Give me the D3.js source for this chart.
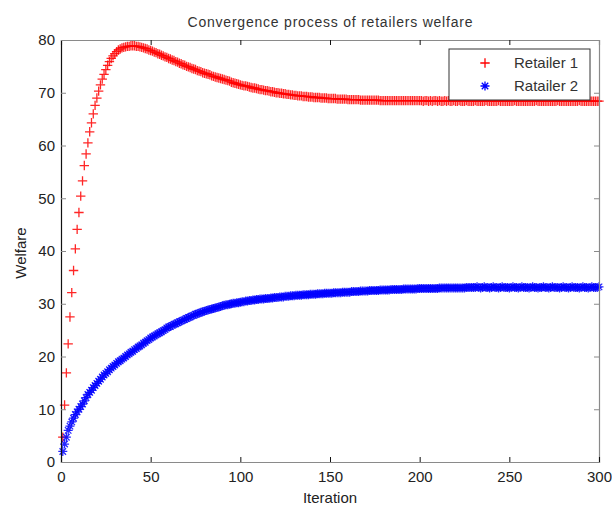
<!DOCTYPE html>
<html>
<head>
<meta charset="utf-8">
<script src="https://cdn.jsdelivr.net/npm/d3@7"></script>
<style>
    body { margin: 0; background: #fff; }
    svg text { font-family: "Liberation Sans", Arial, Helvetica, sans-serif; }
</style>
</head>
<body>
<div id="chart"></div>
<script>
// data
const xTicks = [0, 50, 100, 150, 200, 250, 300];
const yTicks = [0, 10, 20, 30, 40, 50, 60, 70, 80];
const seriesNames = ['Retailer 1', 'Ratailer 2'];

const retailer1 = [
    4.7, 10.8, 16.9, 22.4, 27.5, 32.1, 36.3, 40.4, 44.1, 47.3,
    50.4, 53.3, 56.2, 58.4, 60.5, 62.6, 64.3, 66.0, 67.6, 69.0,
    70.3, 71.5, 72.6, 73.5, 74.4, 75.2, 75.9, 76.5, 77.0, 77.4,
    77.8, 78.1, 78.3, 78.5, 78.6, 78.7, 78.8, 78.8, 78.9, 78.9,
    78.9, 78.8, 78.8, 78.7, 78.6, 78.5, 78.4, 78.3, 78.1, 78.0,
    77.9, 77.7, 77.6, 77.4, 77.3, 77.1, 77.0, 76.8, 76.7, 76.5,
    76.4, 76.2, 76.1, 75.9, 75.8, 75.6, 75.5, 75.3, 75.2, 75.0,
    74.9, 74.8, 74.6, 74.5, 74.4, 74.2, 74.1, 74.0, 73.8, 73.7,
    73.6, 73.5, 73.4, 73.2, 73.1, 73.0, 72.9, 72.8, 72.7, 72.6,
    72.5, 72.4, 72.3, 72.2, 72.0, 71.9, 71.8, 71.7, 71.6, 71.5,
    71.4, 71.3, 71.3, 71.2, 71.1, 71.0, 70.9, 70.9, 70.8, 70.7,
    70.6, 70.6, 70.5, 70.4, 70.4, 70.3, 70.2, 70.2, 70.1, 70.0,
    70.0, 69.9, 69.9, 69.8, 69.8, 69.7, 69.7, 69.6, 69.6, 69.5,
    69.5, 69.4, 69.4, 69.4, 69.3, 69.3, 69.3, 69.2, 69.2, 69.2,
    69.1, 69.1, 69.1, 69.1, 69.0, 69.0, 69.0, 69.0, 68.9, 68.9,
    68.9, 68.9, 68.9, 68.8, 68.8, 68.8, 68.8, 68.8, 68.8, 68.7,
    68.7, 68.7, 68.7, 68.7, 68.7, 68.7, 68.6, 68.6, 68.6, 68.6,
    68.6, 68.6, 68.6, 68.6, 68.6, 68.6, 68.6, 68.5, 68.5, 68.5,
    68.5, 68.5, 68.5, 68.5, 68.5, 68.5, 68.5, 68.5, 68.5, 68.5,
    68.5, 68.5, 68.5, 68.5, 68.5, 68.5, 68.5, 68.5, 68.5, 68.5,
    68.5, 68.4, 68.5, 68.5, 68.4, 68.5, 68.4, 68.5, 68.5, 68.4,
    68.5, 68.4, 68.4, 68.5, 68.4, 68.5, 68.4, 68.4, 68.5, 68.4,
    68.4, 68.5, 68.4, 68.4, 68.4, 68.5, 68.4, 68.4, 68.4, 68.4,
    68.5, 68.4, 68.4, 68.4, 68.4, 68.4, 68.5, 68.4, 68.4, 68.4,
    68.4, 68.4, 68.4, 68.5, 68.4, 68.4, 68.4, 68.4, 68.4, 68.4,
    68.4, 68.4, 68.5, 68.4, 68.4, 68.4, 68.4, 68.4, 68.4, 68.4,
    68.4, 68.4, 68.4, 68.4, 68.5, 68.4, 68.4, 68.4, 68.4, 68.4,
    68.4, 68.4, 68.4, 68.4, 68.4, 68.4, 68.5, 68.4, 68.4, 68.4,
    68.4, 68.4, 68.4, 68.4, 68.4, 68.4, 68.4, 68.4, 68.5, 68.4,
    68.4, 68.4, 68.4, 68.4, 68.4, 68.4, 68.4, 68.4, 68.4, 68.4
];

const retailer2 = [
    2.0, 3.4, 4.7, 6.0, 6.8, 7.6, 8.3, 9.0, 9.5, 10.0,
    10.5, 11.0, 11.6, 12.2, 12.8, 13.2, 13.6, 14.1, 14.5, 14.9,
    15.3, 15.7, 16.1, 16.5, 16.8, 17.1, 17.5, 17.8, 18.1, 18.4,
    18.7, 19.0, 19.2, 19.5, 19.7, 20.0, 20.3, 20.5, 20.8, 21.0,
    21.3, 21.5, 21.8, 22.0, 22.2, 22.5, 22.7, 23.0, 23.2, 23.5,
    23.7, 23.9, 24.1, 24.3, 24.5, 24.7, 24.9, 25.1, 25.4, 25.6,
    25.7, 25.9, 26.1, 26.2, 26.4, 26.6, 26.7, 26.9, 27.0, 27.2,
    27.4, 27.5, 27.7, 27.8, 28.0, 28.1, 28.2, 28.4, 28.5, 28.6,
    28.7, 28.8, 28.9, 29.0, 29.1, 29.2, 29.3, 29.4, 29.5, 29.6,
    29.7, 29.8, 29.8, 29.9, 30.0, 30.1, 30.1, 30.2, 30.2, 30.3,
    30.4, 30.4, 30.5, 30.5, 30.6, 30.6, 30.7, 30.7, 30.8, 30.8,
    30.9, 30.9, 30.9, 31.0, 31.0, 31.0, 31.1, 31.1, 31.2, 31.2,
    31.2, 31.3, 31.3, 31.3, 31.4, 31.4, 31.4, 31.5, 31.5, 31.5,
    31.6, 31.6, 31.6, 31.6, 31.7, 31.7, 31.7, 31.7, 31.8, 31.8,
    31.8, 31.8, 31.9, 31.9, 31.9, 31.9, 32.0, 32.0, 32.0, 32.0,
    32.0, 32.1, 32.1, 32.1, 32.1, 32.1, 32.2, 32.2, 32.2, 32.2,
    32.2, 32.3, 32.3, 32.3, 32.3, 32.3, 32.4, 32.4, 32.4, 32.4,
    32.4, 32.5, 32.5, 32.5, 32.5, 32.5, 32.5, 32.6, 32.6, 32.6,
    32.6, 32.6, 32.6, 32.7, 32.7, 32.7, 32.7, 32.7, 32.7, 32.7,
    32.8, 32.8, 32.8, 32.8, 32.8, 32.8, 32.8, 32.8, 32.9, 32.9,
    32.9, 32.9, 32.9, 32.9, 32.9, 32.9, 32.9, 32.9, 32.9, 32.9,
    33.0, 33.0, 33.0, 33.0, 33.0, 33.0, 33.0, 33.0, 33.0, 33.0,
    33.0, 33.0, 33.0, 33.0, 33.0, 33.1, 33.1, 33.1, 33.1, 33.1,
    33.1, 33.2, 33.1, 33.0, 33.1, 33.2, 33.1, 33.1, 33.0, 33.1,
    33.2, 33.1, 33.1, 33.0, 33.1, 33.2, 33.1, 33.1, 33.1, 33.0,
    33.1, 33.2, 33.1, 33.1, 33.0, 33.1, 33.2, 33.1, 33.1, 33.1,
    33.0, 33.1, 33.2, 33.1, 33.1, 33.0, 33.1, 33.1, 33.2, 33.1,
    33.1, 33.0, 33.1, 33.2, 33.1, 33.1, 33.1, 33.0, 33.1, 33.2,
    33.1, 33.1, 33.0, 33.1, 33.2, 33.1, 33.1, 33.1, 33.0, 33.1,
    33.2, 33.1, 33.1, 33.0, 33.1, 33.2, 33.1, 33.1, 33.1, 33.2
];

const iterations = d3.range(1, retailer1.length + 1);

// margin convention
const margin = { top: 40, right: 13, bottom: 44, left: 61 };
const width = 612 - margin.left - margin.right;
const height = 506 - margin.top - margin.bottom;

const svg = d3.select('#chart')
    .append('svg')
    .attr('width', width + margin.left + margin.right)
    .attr('height', height + margin.top + margin.bottom);

const group = svg.append('g')
    .attr('transform', 'translate(' + margin.left + ',' + margin.top + ')');

const xScale = d3.scaleLinear().domain([0, 300]).range([0, width]);
const yScale = d3.scaleLinear().domain([0, 80]).range([height, 0]);

// marker shapes: '+' and '*' as in matlab
function plusPath(r) {
    return 'M' + (-r) + ',0H' + r + 'M0,' + (-r) + 'V' + r;
}
function starPath(r) {
    const d = r * 0.72;
    return plusPath(r) + 'M' + (-d) + ',' + (-d) + 'L' + d + ',' + d +
        'M' + (-d) + ',' + d + 'L' + d + ',' + (-d);
}

const series = [
    { name: seriesNames[0], values: retailer1, color: '#ff0000', path: plusPath(4.7), sw: 1.3 },
    { name: seriesNames[1], values: retailer2, color: '#0000ff', path: starPath(4.5), sw: 1.3 }
];

// data markers
series.forEach((s) => {
    group.append('g')
        .selectAll('path')
        .data(iterations.map((it, i) => [it, s.values[i]]))
        .enter()
        .append('path')
        .attr('d', s.path)
        .attr('transform', d => 'translate(' + xScale(d[0]) + ',' + yScale(d[1]) + ')')
        .attr('fill', 'none')
        .attr('stroke', s.color)
        .attr('stroke-width', s.sw)
        .attr('stroke-opacity', 0.85);
});

// axes box
const xAxis = d3.axisBottom(xScale).tickValues(xTicks).tickSize(-5).tickPadding(9);
const yAxis = d3.axisLeft(yScale).tickValues(yTicks).tickSize(-5).tickPadding(6);
const xTop = d3.axisTop(xScale).tickValues(xTicks).tickSize(-5).tickFormat('');
const yRight = d3.axisRight(yScale).tickValues(yTicks).tickSize(-5).tickFormat('');

group.append('g').attr('class', 'x-top').call(xTop);
group.append('g').attr('class', 'y-right')
    .attr('transform', 'translate(' + width + ',0)').call(yRight);
group.append('g').attr('class', 'x-axis')
    .attr('transform', 'translate(0,' + height + ')').call(xAxis);
group.append('g').attr('class', 'y-axis').call(yAxis);

group.selectAll('.domain').attr('stroke', '#8a8a8a').attr('stroke-width', 1.2);
group.select('.y-axis .domain').attr('stroke', '#111');
group.selectAll('.x-axis .tick line, .x-top .tick line').attr('stroke', '#111');
group.selectAll('.y-axis .tick line, .y-right .tick line').attr('stroke', '#8a8a8a');
group.selectAll('.tick text')
    .style('font-size', '15px')
    .attr('fill', '#222');

// title and labels
svg.append('text')
    .text('Convergence process of retailers welfare')
    .attr('x', margin.left + width / 2)
    .attr('y', 27)
    .attr('text-anchor', 'middle')
    .attr('textLength', 285)
    .attr('lengthAdjust', 'spacing')
    .style('font-size', '14px')
    .attr('fill', '#333');

svg.append('text')
    .text('Iteration')
    .attr('x', margin.left + width / 2)
    .attr('y', 503)
    .attr('text-anchor', 'middle')
    .style('font-size', '15px')
    .attr('fill', '#222');

svg.append('text')
    .text('Welfare')
    .attr('transform', 'translate(26,253) rotate(-90)')
    .attr('text-anchor', 'middle')
    .style('font-size', '15px')
    .attr('fill', '#222');

// legend
const legend = svg.append('g').attr('transform', 'translate(449,49)');
legend.append('rect')
    .attr('width', 141)
    .attr('height', 51)
    .attr('fill', '#fff')
    .attr('stroke', '#333')
    .attr('stroke-width', 1);

const entries = legend.selectAll('g.entry')
    .data(series)
    .enter()
    .append('g')
    .attr('class', 'entry')
    .attr('transform', (d, i) => 'translate(0,' + (14 + i * 23) + ')');

entries.append('path')
    .attr('d', d => d.path)
    .attr('transform', 'translate(36,0)')
    .attr('fill', 'none')
    .attr('stroke', d => d.color)
    .attr('stroke-width', 1.3);

entries.append('text')
    .text(d => d.name)
    .attr('x', 65)
    .attr('dy', '0.35em')
    .style('font-size', '15px')
    .attr('fill', '#333');
</script>
</body>
</html>
